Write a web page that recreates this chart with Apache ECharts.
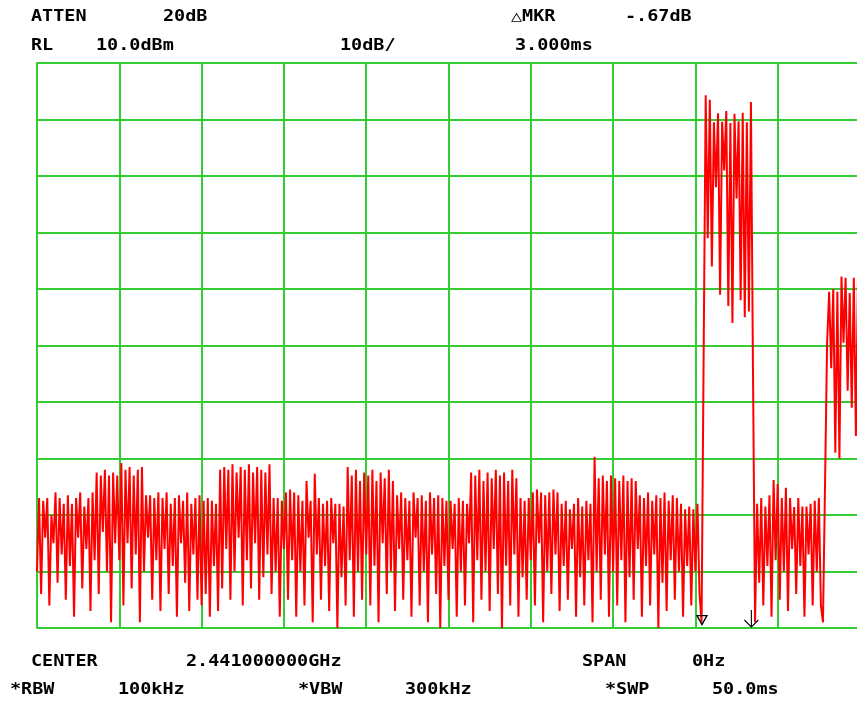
<!DOCTYPE html>
<html>
<head>
<meta charset="utf-8">
<script src="https://cdn.jsdelivr.net/npm/echarts@6/dist/echarts.min.js"></script>
<style>
html,body{margin:0;padding:0;background:#fff;overflow:hidden;}
#chart{width:860px;height:702px;}
</style>
</head>
<body>
<div id="chart"></div>
<script>
// Sweep settings (zero span, 50 ms sweep, 401 trace points)
const sweepMs = 50;
const timeTicks = 5;          // ms per division
const refLevel = 10;          // dBm
const bottomLevel = -90;      // dBm
const levelStep = 10;         // dB per division

// Trace level readings (dBm), sample 0..323 : background noise before the first burst
const noiseLead = [
  -80,-67,-84,-67.5,-74,-67,-86,-70,-75,-66, -82,-67,-77,-68,-85,-66.5,-79,-68,-88,-67, -74,-66,-83,-68.5,-76,-67,-87,-66,-78,-62.5, -84,-63,-73,-62,-80,-63,-89,-62.5,-75,-63,
  -78,-60.8,-86,-62,-75,-61.5,-83,-63,-77,-62, -89,-61.5,-80,-66.5,-74,-66.5,-85,-67,-78,-66, -87,-67,-76,-66,-84,-68,-79,-67,-88,-66.5, -75,-67.5,-82,-66,-87,-68,-77,-67,-85,-66.5,
  -86,-67.5,-84,-67,-88,-67.5,-79,-68,-87,-62, -83,-61.5,-76,-62,-85,-61,-80,-62.5,-74,-61.5, -86,-62,-78,-61,-83,-62.5,-75,-61.5,-85,-62, -81,-62.5,-77,-61,-84,-67,-80,-67,-88,-67.5,
  -76,-66,-85,-65.5,-78,-66,-88,-66.5,-80,-67.5, -86,-64,-74,-67.5,-89,-62.7,-77,-67,-85,-68, -79,-67.5,-87,-67,-75,-68,-90,-68,-81,-68.5, -86,-61.5,-78,-63,-88,-62,-80,-64,-85,-62.5,
  -77,-63,-86,-62,-79,-64,-89,-62.5,-75,-63.5, -84,-62,-80,-64,-87,-66.5,-76,-66,-85,-67, -78,-67.5,-88,-66,-74,-67,-86,-66.5,-80,-67.5, -89,-66,-77,-67,-84,-66.5,-90,-67,-79,-67.5,
  -85,-67.5,-76,-68,-88,-67,-80,-67.5,-86,-68, -75,-62.5,-89,-63,-78,-62,-85,-64,-80,-62.5, -87,-63.5,-76,-62,-84,-63,-90,-62.5,-79,-64, -86,-62,-77,-63.5,-88,-67,-81,-67.5,-85,-67,
  -78,-66,-86,-65.5,-75,-66,-89,-66.5,-80,-66, -84,-65.5,-77,-66,-87,-68,-79,-67.5,-85,-69, -76,-68,-88,-67,-81,-68.5,-86,-67.5,-78,-68, -89,-59.7,-80,-63.5,-85,-63,-77,-64,-88,-63,
  -80,-63.5,-86,-64,-78,-63,-89,-64,-81,-63.5, -85,-64,-76,-66.5,-88,-67,-79,-66,-86,-67.5, -77,-66.5,-90,-67,-82,-66,-87,-67.5,-78,-66.5, -85,-67,-80,-68,-88,-69,-79,-68.5,-86,-69,
  -80,-68,-84,-89
];
// samples 324..348 : first burst
const burstOne = [
  -42,4.3,-21,3.5,-26,-0.5,-12,1.1,-31,-0.4,-9,1.5,-33,-0.6,-36,1,-14,-0.3,-32,1.2,-35,-0.5,-34,3.1,-45
];
// samples 349..383 : noise between bursts
const noiseGap = [
  -89,-68,-82,-67,-86,-68.5,-79,-66.5,-88,-63.8, -78,-64.5,-85,-67,-80,-65.2,-87,-67,-76,-68.6,
  -84,-67,-79,-68.5,-88,-68.5,-77,-68,-86,-67.5, -80,-67,-86,-89,-64.7
];
// samples 384..400 : second burst (cut at right edge)
const burstTwo = [
  -39.6,-30.5,-44,-30,-59,-30.5,-60,-27.8,-39.5,-28,-48,-30.7,-51,-28,-56,-28.4,-42
];
// marker positions (ms, dBm)
const markerRef = [40.4, -88.6];
const markerDelta = [43.4, -88.3];

const trace = noiseLead.concat(burstOne, noiseGap, burstTwo);
const stepMs = sweepMs / (trace.length - 1);
const seriesData = trace.map((v, i) => [i * stepMs, v]);

const gridGreen = '#33cc33';
const font = 'bold 15px "DejaVu Sans Mono", "Liberation Mono", monospace';
const labels = [
  ['ATTEN', 31, 17], ['20dB', 163, 17], ['\u25B3MKR', 511, 17], ['-.67dB', 625, 17],
  ['RL', 31, 46], ['10.0dBm', 96, 46], ['10dB/', 340, 46], ['3.000ms', 515, 46],
  ['CENTER', 31, 662], ['2.441000000GHz', 186, 662], ['SPAN', 582, 662], ['0Hz', 692, 662],
  ['*RBW', 10, 690], ['100kHz', 118, 690], ['*VBW', 298, 690], ['300kHz', 405, 690],
  ['*SWP', 605, 690], ['50.0ms', 712, 690]
];

const chart = echarts.init(document.getElementById('chart'), null, {renderer: 'canvas'});
chart.setOption({
  animation: false,
  backgroundColor: '#fff',
  grid: {left: 37, top: 63, width: 823, height: 565, containLabel: false},
  xAxis: {
    type: 'value', min: 0, max: sweepMs, interval: timeTicks,
    axisLine: {show: true, lineStyle: {color: gridGreen, width: 2}},
    axisTick: {show: false}, axisLabel: {show: false},
    splitLine: {show: true, lineStyle: {color: gridGreen, width: 2}}
  },
  yAxis: {
    type: 'value', min: bottomLevel, max: refLevel, interval: levelStep,
    axisLine: {show: true, lineStyle: {color: gridGreen, width: 2}},
    axisTick: {show: false}, axisLabel: {show: false},
    splitLine: {show: true, lineStyle: {color: gridGreen, width: 2}}
  },
  series: [{
    type: 'line',
    data: seriesData,
    showSymbol: false,
    symbol: 'none',
    clip: true,
    lineStyle: {color: '#ff0000', width: 2, join: 'miter'},
    markPoint: {
      silent: true,
      label: {show: false},
      data: [
        {coord: markerRef, symbol: 'path://M0,0 L10,0 L5,9 Z', symbolSize: [10, 9],
         itemStyle: {color: 'rgba(0,0,0,0)', borderColor: '#000', borderWidth: 1.3}},
        {coord: markerDelta, symbol: 'path://M7,0 L7,17 M0,10 L7,17 L14,10', symbolSize: [14, 17],
         itemStyle: {color: 'rgba(0,0,0,0)', borderColor: '#000', borderWidth: 1.2}}
      ]
    }
  }],
  graphic: labels.map(([t, x, y]) => ({
    type: 'text', x: x, y: y, scaleX: 1.23, silent: true,
    style: {text: t, x: 0, y: 0, font: font, fill: '#000', verticalAlign: 'middle', align: 'left'}
  }))
});
</script>
</body>
</html>
